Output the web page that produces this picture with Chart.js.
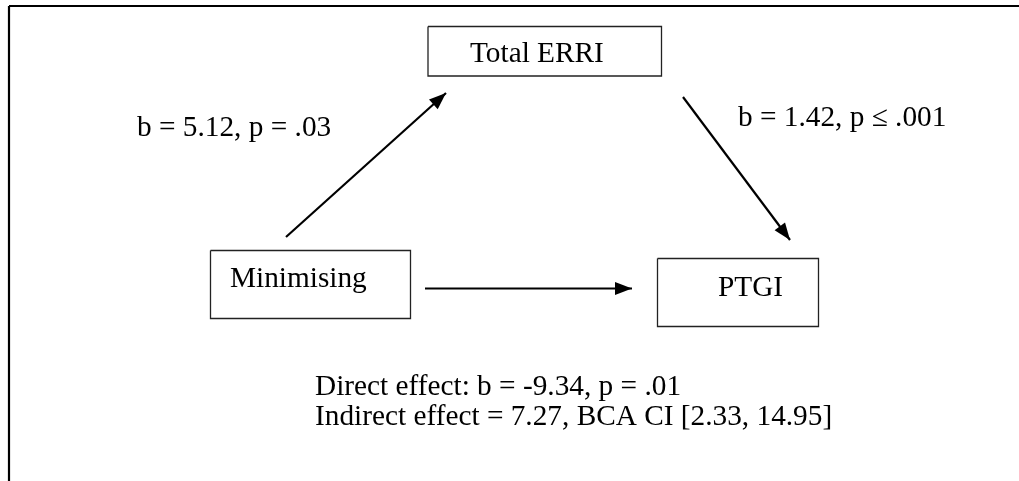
<!DOCTYPE html>
<html>
<head>
<meta charset="utf-8">
<script src="https://cdn.jsdelivr.net/npm/chart.js@4"></script>
<style>
  html, body { margin: 0; padding: 0; background: #ffffff; }
  #wrap { width: 1019px; height: 481px; }
</style>
</head>
<body>
<div id="wrap"><canvas id="c" width="1019" height="481"></canvas></div>
<script>
// ---- Diagram content (mediation model) ----
const nodeLabels = ['Total ERRI', 'Minimising', 'PTGI'];
// box extents in diagram coordinates: [left, top, right, bottom]
const nodeBoxes = [
  [428, 26.5, 661.5, 76],
  [210.5, 250.5, 410.5, 318.5],
  [657.5, 258.5, 818.5, 326.5]
];
const nodeTextPos = [[470, 62], [230, 287], [718, 296]];

const pathLabels = ['b = 5.12, p = .03', 'b = 1.42, p \u2264 .001'];
const pathLabelPos = [[137, 136], [738, 126]];

// arrows: [fromX, fromY, toX, toY]
const arrowPaths = [
  [286, 237, 446, 93],
  [683, 97, 790, 240],
  [425, 288.5, 632, 288.5]
];

const effectLines = [
  'Direct effect: b = -9.34, p = .01',
  'Indirect effect = 7.27, BCA CI [2.33, 14.95]'
];
const effectPos = [[315, 395], [315, 425]];

// frame (top and left borders)
const frameLines = [
  [9, 6, 1019, 6],
  [9, 6, 9, 481]
];

// ---- Build datasets ----
const datasets = [];
frameLines.forEach(f => {
  datasets.push({
    data: [{x: f[0], y: f[1]}, {x: f[2], y: f[3]}],
    borderColor: '#000', borderWidth: 2.2, pointRadius: 0, showLine: true, fill: false,
    tension: 0
  });
});
nodeBoxes.forEach(b => {
  datasets.push({
    data: [{x: b[0], y: b[1]}, {x: b[2], y: b[1]}, {x: b[2], y: b[3]}, {x: b[0], y: b[3]}, {x: b[0], y: b[1]}],
    borderColor: '#222', borderWidth: 1.3, pointRadius: 0, showLine: true, fill: false,
    tension: 0
  });
});
arrowPaths.forEach(a => {
  datasets.push({
    data: [{x: a[0], y: a[1]}, {x: a[2], y: a[3]}],
    borderColor: '#000', borderWidth: 2.2, pointRadius: 0, showLine: true, fill: false,
    tension: 0, isArrow: true
  });
});

const diagramPlugin = {
  id: 'diagram',
  afterDatasetsDraw(chart) {
    const ctx = chart.ctx;
    const xs = chart.scales.x, ys = chart.scales.y;
    const px = v => xs.getPixelForValue(v);
    const py = v => ys.getPixelForValue(v);
    // arrowheads
    chart.data.datasets.forEach((ds, i) => {
      if (!ds.isArrow) return;
      const pts = chart.getDatasetMeta(i).data;
      const p0 = pts[pts.length - 2], p1 = pts[pts.length - 1];
      const ang = Math.atan2(p1.y - p0.y, p1.x - p0.x);
      const L = 17, W = 6.5;
      ctx.save();
      ctx.fillStyle = '#000';
      ctx.beginPath();
      ctx.moveTo(p1.x, p1.y);
      ctx.lineTo(p1.x - L * Math.cos(ang) + W * Math.sin(ang), p1.y - L * Math.sin(ang) - W * Math.cos(ang));
      ctx.lineTo(p1.x - L * Math.cos(ang) - W * Math.sin(ang), p1.y - L * Math.sin(ang) + W * Math.cos(ang));
      ctx.closePath();
      ctx.fill();
      ctx.restore();
    });
    // texts
    ctx.save();
    ctx.fillStyle = '#000';
    ctx.textAlign = 'left';
    ctx.textBaseline = 'alphabetic';
    ctx.font = '29.3px "Liberation Serif", "Times New Roman", serif';
    nodeLabels.forEach((t, i) => ctx.fillText(t, px(nodeTextPos[i][0]), py(nodeTextPos[i][1])));
    pathLabels.forEach((t, i) => ctx.fillText(t, px(pathLabelPos[i][0]), py(pathLabelPos[i][1])));
    effectLines.forEach((t, i) => ctx.fillText(t, px(effectPos[i][0]), py(effectPos[i][1])));
    ctx.restore();
  }
};

new Chart(document.getElementById('c'), {
  type: 'scatter',
  data: { datasets },
  options: {
    responsive: false,
    animation: false,
    layout: { padding: 0 },
    plugins: { legend: { display: false }, tooltip: { enabled: false }, title: { display: false } },
    scales: {
      x: { type: 'linear', min: 0, max: 1019, display: false },
      y: { type: 'linear', min: 0, max: 481, reverse: true, display: false }
    },
    elements: { line: { capBezierPoints: false } }
  },
  plugins: [diagramPlugin]
});
</script>
</body>
</html>
